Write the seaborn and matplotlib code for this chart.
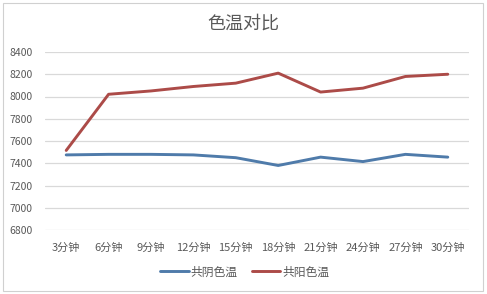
import matplotlib
matplotlib.use("Agg")
import matplotlib.pyplot as plt
import seaborn as sns
import pandas as pd
from matplotlib.lines import Line2D
from matplotlib.patches import Rectangle

categories = ["3分钟", "6分钟", "9分钟", "12分钟", "15分钟", "18分钟", "21分钟", "24分钟", "27分钟", "30分钟"]
series_names = ["共阴色温", "共阳色温"]
yin_values = [7475, 7480, 7480, 7475, 7450, 7380, 7455, 7415, 7480, 7455]
yang_values = [7515, 8020, 8050, 8090, 8120, 8210, 8040, 8075, 8180, 8200]
y_ticks = [6800, 7000, 7200, 7400, 7600, 7800, 8000, 8200, 8400]
title = "色温对比"

colors = ["#4F7BAA", "#AC4B48"]

sns.set_theme(style="white")
plt.rcParams['font.family'] = ['Noto Sans CJK SC', 'DejaVu Sans']

df = pd.DataFrame({
    "cat": list(range(len(categories))) * 2,
    "val": yin_values + yang_values,
    "series": [series_names[0]] * len(categories) + [series_names[1]] * len(categories),
})

fig = plt.figure(figsize=(4.87, 2.94), dpi=100)
ax = fig.add_axes([45/487, 1 - 230/294, (469 - 45)/487, (230 - 52)/294])

sns.lineplot(data=df, x="cat", y="val", hue="series", palette=colors, linewidth=2.1,
             ax=ax, legend=False, sort=False)

ax.set_xlim(-0.5, len(categories) - 0.5)
ax.set_ylim(y_ticks[0], y_ticks[-1])
ax.set_yticks(y_ticks)
ax.set_yticklabels([str(t) for t in y_ticks], fontsize=7.5, color="#595959")
ax.set_xticks(range(len(categories)))
ax.set_xticklabels(categories, fontsize=8, color="#595959")
ax.tick_params(axis="x", length=0, pad=9)
ax.tick_params(axis="y", length=0, pad=9)
ax.set_xlabel("")
ax.set_ylabel("")
for s in ax.spines.values():
    s.set_visible(False)
ax.yaxis.grid(True, color="#D9D9D9", linewidth=0.9)
ax.xaxis.grid(False)
ax.set_axisbelow(True)

fig.text(243/487, 1 - 24/294, title, ha="center", va="center", fontsize=13, color="#595959")

handles = [Line2D([], [], color=c, linewidth=2.1) for c in colors]
fig.legend(handles, series_names, loc="center", bbox_to_anchor=(245/487, 1 - 272/294),
           ncol=2, frameon=False, fontsize=8.5, handlelength=2.4, handletextpad=0.2,
           columnspacing=1.2, labelcolor="#595959")

fig.patches.append(Rectangle((3/487, 3/294), 480/487, 288/294, transform=fig.transFigure,
                             fill=False, edgecolor="#D0D0D0", linewidth=0.8))

fig.savefig("out.png", dpi=100)
